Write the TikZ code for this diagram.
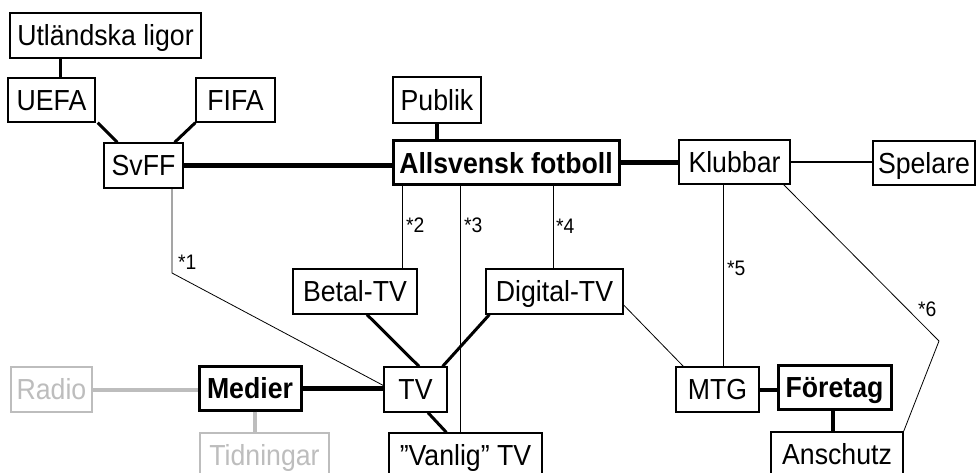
\documentclass[tikz,border=0pt]{standalone}
\usepackage{fontspec}
\setmainfont[FakeStretch=0.92]{Liberation Sans}
\definecolor{lightgr}{HTML}{BDBDBD}
\tikzset{
  box/.style={draw=black, line width=1.3pt, inner sep=0pt, text height=20.5pt, text depth=0pt,
    font=\fontsize{29}{33}\selectfont, fill=white},
  boldbox/.style={box, line width=3pt, font=\fontsize{29}{33}\selectfont\bfseries},
  greybox/.style={box, draw=lightgr, text=lightgr},
  thinlink/.style={line width=0.8pt},
  medlink/.style={line width=3pt},
  heavylink/.style={line width=5pt},
  midlink/.style={line width=4pt},
  greylink/.style={line width=4pt, draw=lightgr},
  klink/.style={line width=2pt},
  star/.style={anchor=west, inner sep=0pt, font=\fontsize{21}{23}\selectfont},
}
\begin{document}
\begin{tikzpicture}[x=1pt,y=-1pt]
\useasboundingbox (0,0) rectangle (977,473);
\clip (0,0) rectangle (977,473);

\coordinate (bend1) at (172,273);
\coordinate (bend6) at (939,341);

% nodes
\node[box, minimum width=191, minimum height=45] (utl) at (105.5,35.5) {Utländska ligor};
\node[box, minimum width=87, minimum height=44] (uefa) at (51.5,100) {UEFA};
\node[box, minimum width=79, minimum height=44] (fifa) at (235.5,100) {FIFA};
\node[box, minimum width=79, minimum height=45] (svff) at (143.5,165.5) {SvFF};
\node[box, minimum width=88, minimum height=46] (publik) at (437,100) {Publik};
\node[boldbox, minimum width=226, minimum height=44] (alls) at (506,163) {Allsvensk fotboll};
\node[box, minimum width=111, minimum height=44] (klubbar) at (734.5,162) {Klubbar};
\node[box, minimum width=102, minimum height=44] (spelare) at (924,163) {Spelare};
\node[box, minimum width=124, minimum height=45] (betal) at (355,291.5) {Betal-TV};
\node[box, minimum width=137, minimum height=45] (digital) at (554.5,291.5) {Digital-TV};
\node[greybox, minimum width=81, minimum height=45] (radio) at (51.5,389.5) {Radio};
\node[boldbox, minimum width=102, minimum height=44] (medier) at (250,388) {Medier};
\node[box, minimum width=63, minimum height=45] (tv) at (415.5,389.5) {TV};
\node[box, minimum width=83, minimum height=45] (mtg) at (717.5,389.5) {MTG};
\node[boldbox, minimum width=113, minimum height=44] (foretag) at (834.5,387) {Företag};
\node[greybox, minimum width=129, minimum height=45] (tidn) at (264.5,455.5) {Tidningar};
\node[box, minimum width=153, minimum height=45] (vanlig) at (465.5,455.5) {”Vanlig” TV};
\node[box, minimum width=132, minimum height=45] (anschutz) at (837,454.5) {Anschutz};

% links
\draw[medlink] ([xshift=8.5]uefa.north) -- ([xshift=8.5]uefa.north |- utl.south);
\draw[medlink] ([xshift=2]uefa.south east) -- ([xshift=14]svff.north west);
\draw[medlink] (fifa.south west) -- ([xshift=-9]svff.north east);
\draw[heavylink] (svff.east) -- (svff.east -| alls.west);
\draw[midlink] (publik.south) -- (publik.south |- alls.north);
\draw[heavylink] (alls.east) -- (alls.east -| klubbar.west);
\draw[klink] (klubbar.east) -- (klubbar.east -| spelare.west);

\draw[thinlink] ([xshift=28.5]svff.south) -- (bend1) -- ([yshift=4]tv.west);
\draw[thinlink] ([xshift=47]betal.north) -- ([xshift=47]betal.north |- alls.south);
\draw[thinlink] ([xshift=-5.5]vanlig.north) -- ([xshift=-5.5]vanlig.north |- alls.south);
\draw[thinlink] ([xshift=-1.5]digital.north) -- ([xshift=-1.5]digital.north |- alls.south);
\draw[thinlink] ([xshift=5.5]mtg.north) -- ([xshift=5.5]mtg.north |- klubbar.south);
\draw[thinlink] ([xshift=-7]klubbar.south east) -- (bend6) -- (anschutz.north east);
\draw[thinlink] ([yshift=-13.5]digital.east) -- ([xshift=8]mtg.north west);

\draw[medlink] ([xshift=12]betal.south) -- ([xshift=3.5]tv.north);
\draw[medlink] ([xshift=4]digital.south west) -- ([xshift=-5]tv.north east);
\draw[medlink] ([xshift=12.5]tv.south) -- ([xshift=58]vanlig.north west);

\draw[greylink] (radio.east) -- (radio.east -| medier.west);
\draw[heavylink] (medier.east) -- (medier.east -| tv.west);
\draw[greylink] ([xshift=5]medier.south) -- ([xshift=5]medier.south |- tidn.north);
\draw[midlink] (mtg.east) -- (mtg.east -| foretag.west);
\draw[midlink] ([xshift=-1.5]foretag.south) -- ([xshift=-1.5]foretag.south |- anschutz.north);

% labels
\node[star] (s1) at (178,262) {*1};
\node[star] (s2) at (406,225) {*2};
\node[star] (s3) at (464,225) {*3};
\node[star] (s4) at (556,226) {*4};
\node[star] (s5) at (727,268) {*5};
\node[star] (s6) at (918,309) {*6};
\end{tikzpicture}
\end{document}
